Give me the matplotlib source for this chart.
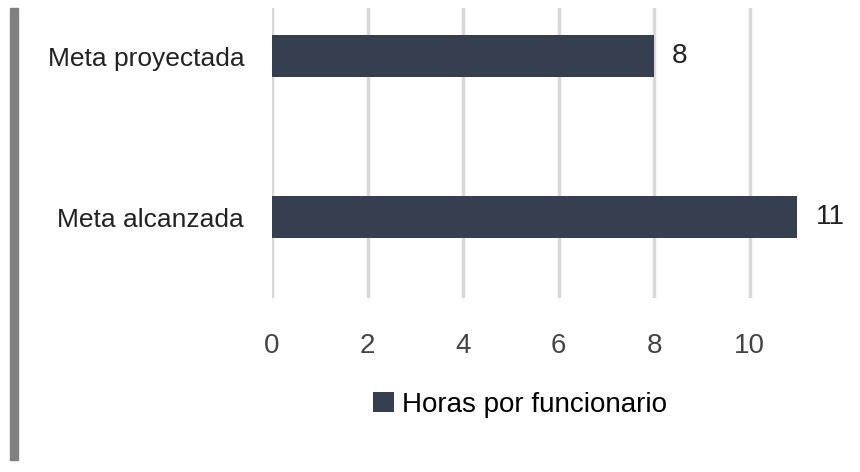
import matplotlib
matplotlib.use("Agg")
import matplotlib.pyplot as plt
from matplotlib.patches import Rectangle

# ── Datos ──────────────────────────────────────────────────────────────────────
categorias = ["Meta alcanzada", "Meta proyectada"]
valores    = [11, 8]
serie      = "Horas por funcionario"
ticks_x    = [0, 2, 4, 6, 8, 10]

COLOR_BARRA = "#353f50"
COLOR_GRID  = "#d9d9d9"
COLOR_TEXTO = "#222222"

plt.rcParams["font.family"] = ["Liberation Sans", "DejaVu Sans"]

fig = plt.figure(figsize=(8.6, 4.72), dpi=100)
ax = fig.add_axes([272 / 860, 1 - 298 / 472, (807 - 272) / 860, 290 / 472])

pos = list(range(len(categorias)))
barras = ax.barh(pos, valores, height=0.26, color=COLOR_BARRA, zorder=3, label=serie)

for b, v in zip(barras, valores):
    ax.annotate(f"{v}", (b.get_width(), b.get_y() + b.get_height() / 2),
                xytext=(13, 0), textcoords="offset points", va="center", ha="left",
                fontsize=20, color=COLOR_TEXTO)

ax.set_xlim(0, 11.2)
ax.set_ylim(-0.502, 1.298)
ax.set_xticks(ticks_x)
ax.set_yticks(pos)
ax.set_yticklabels(categorias)
ax.tick_params(axis="x", length=0, pad=25, labelsize=20, labelcolor="#444444")
ax.tick_params(axis="y", length=0, pad=20, labelsize=19, labelcolor=COLOR_TEXTO)
ax.grid(axis="x", color=COLOR_GRID, linewidth=2.5, zorder=0)
for s in ax.spines.values():
    s.set_visible(False)

leg = fig.legend(handles=[barras], labels=[serie], loc="center",
                 bbox_to_anchor=(520 / 860, 1 - 405 / 472), frameon=False,
                 fontsize=20, handlelength=0.75, handleheight=0.75, handletextpad=0.3)

# barra gris a la izquierda
fig.patches.append(Rectangle((10 / 860, 1 - 460 / 472), 8 / 860, 452 / 472,
                             transform=fig.transFigure, color="#808080", zorder=0))

fig.savefig("out.png", dpi=100)
